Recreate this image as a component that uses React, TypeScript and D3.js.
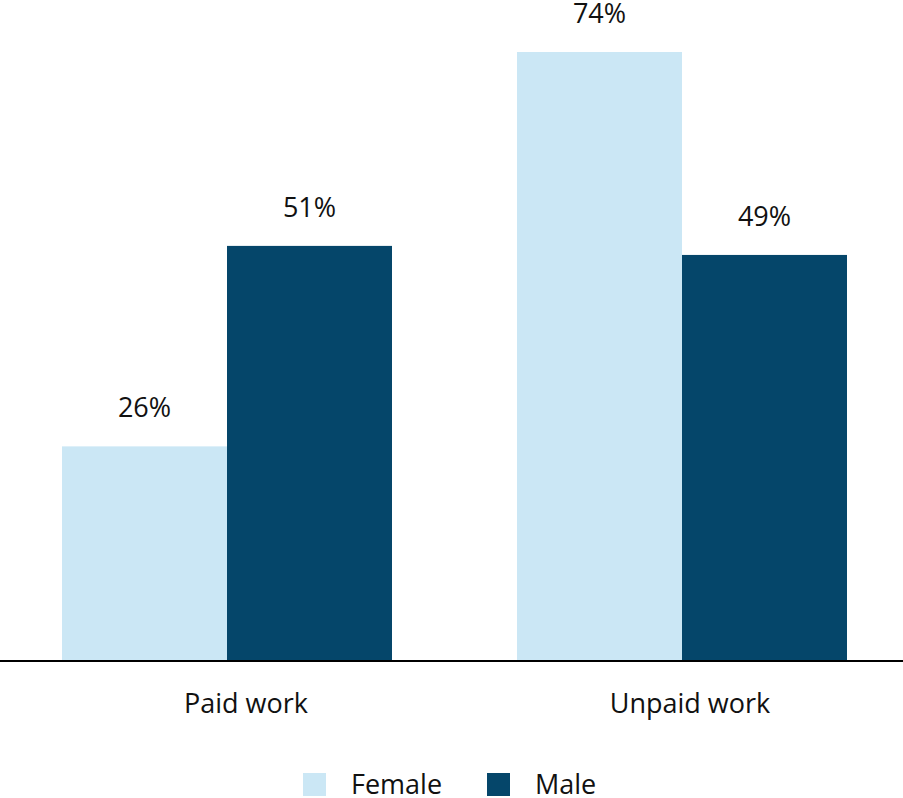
import React from "react";
import * as d3 from "d3";

const categories = ["Paid work", "Unpaid work"];
const seriesNames = ["Female", "Male"];
const femaleValues = [26.0, 74.0];
const maleValues = [50.4, 49.3];
const femaleLabels = ["26%", "74%"];
const maleLabels = ["51%", "49%"];
const colors = ["#cbe7f5", "#05466a"];

const W = 903;
const H = 798;
const FONT = "'Open Sans', 'DejaVu Sans', sans-serif";
const FS = 27;

export default function App() {
  const baseline = 660;
  const groupX = d3.scaleBand<string>().domain(categories).range([62, 847]).paddingInner(125 / 455).paddingOuter(0);
  const x1 = d3.scaleBand<string>().domain(seriesNames).range([0, groupX.bandwidth()]).padding(0);
  const y = d3.scaleLinear().domain([0, 74]).range([baseline, 52]);
  const values = [femaleValues, maleValues];
  const labels = [femaleLabels, maleLabels];
  const catNudge = [19, 8];

  return (
    <svg width={W} height={H} style={{ display: "block", position: "absolute", left: 0, top: 0 }}>
      <rect width={W} height={H} fill="#fff" />
      {categories.map((c, ci) =>
        seriesNames.map((s, si) => {
          const v = values[si][ci];
          const bx = (groupX(c) ?? 0) + (x1(s) ?? 0);
          const bw = x1.bandwidth();
          return (
            <g key={c + s}>
              <rect x={bx} y={y(v)} width={bw} height={baseline - y(v)} fill={colors[si]} />
              <text x={bx + bw / 2} y={y(v) - 29} textAnchor="middle" fontFamily={FONT} fontSize={FS} fill="#111">
                {labels[si][ci]}
              </text>
            </g>
          );
        })
      )}
      <line x1={0} x2={W} y1={661} y2={661} stroke="#000" strokeWidth={2} />
      {categories.map((c, ci) => (
        <text key={c} x={(groupX(c) ?? 0) + groupX.bandwidth() / 2 + catNudge[ci]} y={713} textAnchor="middle" fontFamily={FONT} fontSize={FS} fill="#111">
          {c}
        </text>
      ))}
      {seriesNames.map((s, si) => {
        const lx = si === 0 ? 303 : 487;
        return (
          <g key={s}>
            <rect x={lx} y={773} width={23} height={23} fill={colors[si]} />
            <text x={lx + 48} y={794} fontFamily={FONT} fontSize={FS} fill="#111">
              {s}
            </text>
          </g>
        );
      })}
    </svg>
  );
}
